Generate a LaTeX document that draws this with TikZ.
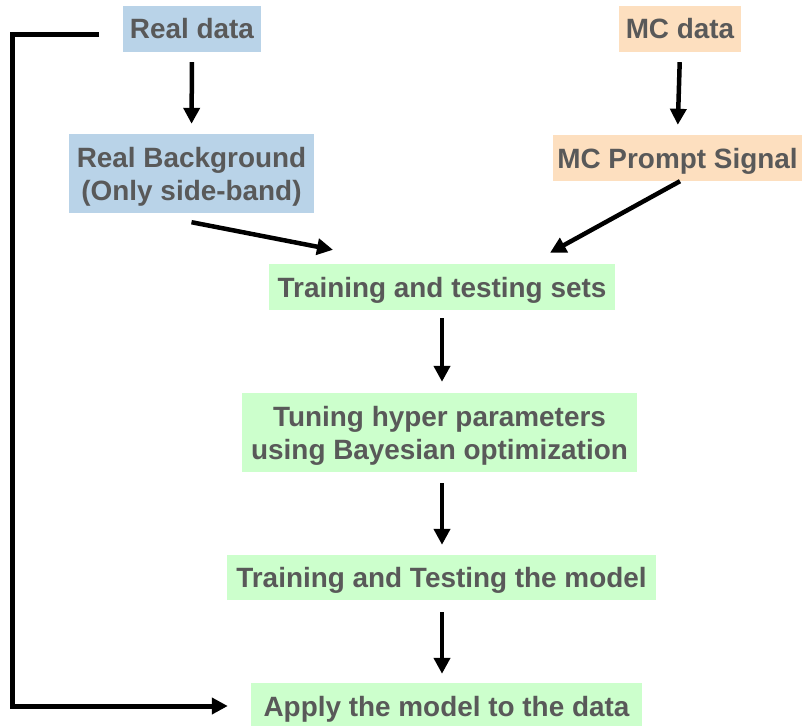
\documentclass[tikz,border=0pt]{standalone}
\usepackage{fontspec}
\setmainfont{Liberation Sans}
\usetikzlibrary{arrows.meta}
\definecolor{txtgray}{HTML}{595959}
\definecolor{boxblue}{HTML}{B9D3E8}
\definecolor{boxorange}{HTML}{FDDFBF}
\definecolor{boxgreen}{HTML}{CCFFCC}
\tikzset{
  box/.style={rectangle, inner sep=0pt, align=center, text=txtgray,
    text height=20pt, text depth=0pt,
    font=\fontsize{27.9}{33}\selectfont\bfseries},
  twolines/.style={text height=53pt, text depth=0pt},
  bluebox/.style={box, fill=boxblue},
  orangebox/.style={box, fill=boxorange},
  greenbox/.style={box, fill=boxgreen},
  arr/.style={line width=4.5pt, -{Triangle[length=16pt,width=16pt]}},
}
\begin{document}
\begin{tikzpicture}[x=1pt,y=-1pt]
\useasboundingbox (0,0) rectangle (802,725);
\node[bluebox, minimum width=138pt, minimum height=46pt] (rd) at (192,29) {Real data};
\node[bluebox, twolines, minimum width=245pt, minimum height=79pt] (rb) at (191.5,173.5) {Real Background\\(Only side-band)};
\node[orangebox, minimum width=122pt, minimum height=46pt] (md) at (680,29) {MC data};
\node[orangebox, minimum width=249pt, minimum height=46pt] (mp) at (677.5,158) {MC Prompt Signal};
\node[greenbox, minimum width=346pt, minimum height=46pt] (ts) at (442,287) {Training and testing sets};
\node[greenbox, twolines, minimum width=395pt, minimum height=79pt] (tu) at (439.5,432.5) {Tuning hyper parameters\\using Bayesian optimization};
\node[greenbox, minimum width=429pt, minimum height=45pt] (tm) at (441.5,577.5) {Training and Testing the model};
\node[greenbox, minimum width=391pt, minimum height=46pt] (ap) at (446.5,706) {Apply the model to the data};
\coordinate (ls) at (99,35);
\coordinate (lc) at (12,35);
\draw[arr, shorten <=10pt, shorten >=10pt] (rd.south) -- (rb.north);
\draw[arr, shorten <=10pt, shorten >=10pt] (md.south) -- (mp.north);
\draw[arr] ([yshift=-9pt]rb.south) -- ([xshift=-109pt,yshift=14pt]ts.north);
\draw[arr] ([xshift=2.5pt]mp.south) -- ([xshift=108pt,yshift=11pt]ts.north);
\draw[arr, shorten <=8pt, shorten >=11pt] (ts.south) -- (ts.south |- tu.north);
\draw[arr, shorten <=11pt, shorten >=10pt] (tu.south -| ts.south) -- (ts.south |- tm.north);
\draw[arr, shorten <=12pt, shorten >=9pt] (tm.south -| ts.south) -- (ts.south |- ap.north);
\draw[line width=5pt, -{Triangle[length=16pt,width=16pt]}, shorten >=23pt] (ls) -- (lc) |- (ap.west);
\end{tikzpicture}
\end{document}
